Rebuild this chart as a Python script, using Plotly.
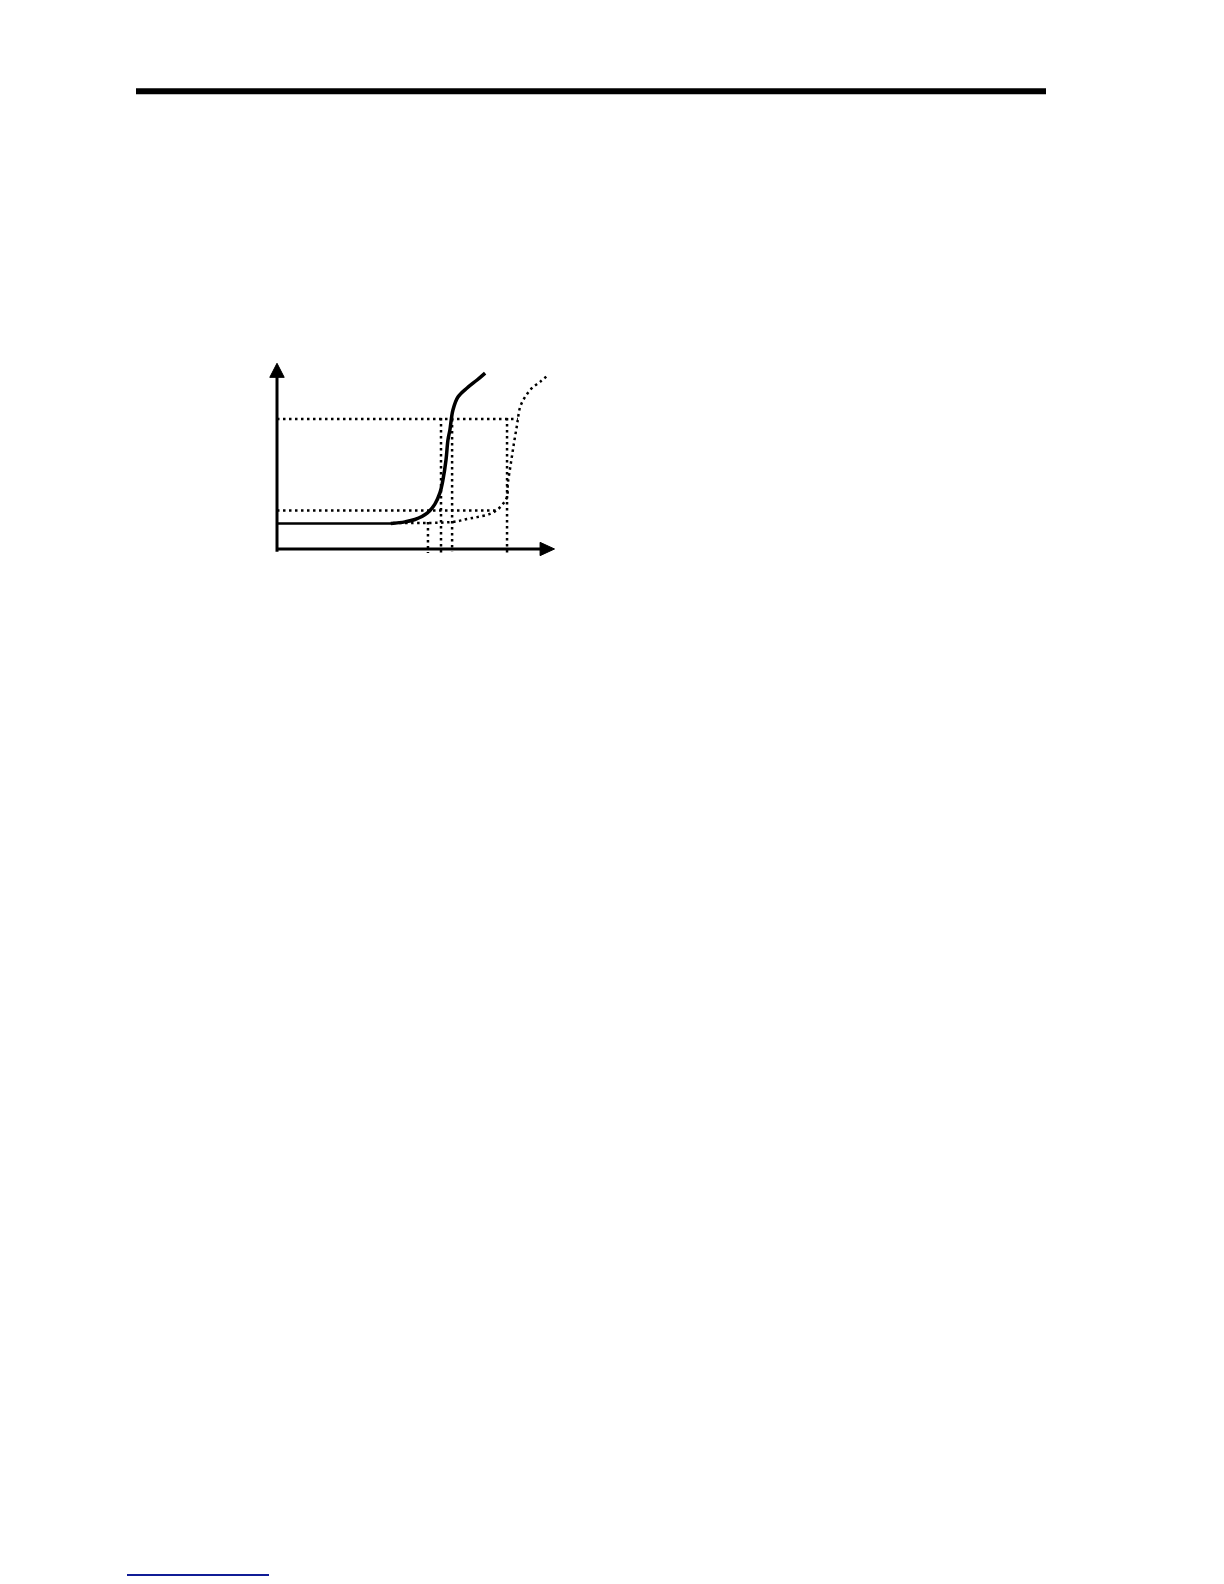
import plotly.graph_objects as go

# ---------------------------------------------------------------
# DATA (chart units: x 0..10, y 0..7)
# ---------------------------------------------------------------

# solid curve: flat part then steep rise
SOLID_FLAT_X = [0, 4.18]
SOLID_FLAT_Y = [0.96, 0.96]
SOLID_X = [4.10, 4.61, 4.97, 5.41, 5.69, 5.87, 5.98, 6.09, 6.16, 6.23, 6.34, 6.52, 6.85, 7.21, 7.50]
SOLID_Y = [0.96, 1.02, 1.11, 1.35, 1.69, 2.11, 2.60, 3.35, 4.10, 4.48, 5.23, 5.72, 6.06, 6.36, 6.62]

# dotted curve: shifted to the right
DOTTED_X = [4.18, 6.34, 6.85, 7.21, 7.68, 7.93, 8.14, 8.29, 8.32, 8.43, 8.54, 8.65, 8.68, 8.76, 8.94, 9.19, 9.48, 9.77]
DOTTED_Y = [0.98, 1.02, 1.13, 1.20, 1.32, 1.47, 1.69, 1.96, 2.48, 3.24, 3.99, 4.67, 4.89, 5.34, 5.72, 6.06, 6.29, 6.55]

# dotted guide lines
GUIDE_H_Y = [4.89, 1.45]
GUIDE_H_XEND = [8.68, 7.93]
GUIDE_V_X = [5.44, 5.91, 6.31, 8.29]
GUIDE_V_YTOP = [1.02, 4.93, 4.89, 4.93]
GUIDE_V_YBOT = [-0.15, -0.15, -0.08, -0.15]

# ---------------------------------------------------------------
# PAGE GEOMETRY
# ---------------------------------------------------------------
PAGE_W, PAGE_H = 1224, 1584
BODY = 8                      # default body margin of the html page
W, H = PAGE_W - 2 * BODY, PAGE_H - 2 * BODY


def px(v):
    # page pixel -> figure pixel
    return v - BODY


ORIGIN_PX = (px(277), px(549))   # chart origin
PX_PER_X, PX_PER_Y = 27.75, 26.57
X_RANGE = [-0.5, 10.5]
Y_RANGE = [-0.5, 7.5]

x0 = ORIGIN_PX[0] + X_RANGE[0] * PX_PER_X
x1 = ORIGIN_PX[0] + X_RANGE[1] * PX_PER_X
y0 = ORIGIN_PX[1] - Y_RANGE[0] * PX_PER_Y
y1 = ORIGIN_PX[1] - Y_RANGE[1] * PX_PER_Y

DOT = '2.5px,3.5px'

fig = go.Figure()

# guide lines
gx, gy = [], []
for yv, xe in zip(GUIDE_H_Y, GUIDE_H_XEND):
    gx += [0, xe, None]
    gy += [yv, yv, None]
for xv, yt, yb in zip(GUIDE_V_X, GUIDE_V_YTOP, GUIDE_V_YBOT):
    gx += [xv, xv, None]
    gy += [yt, yb, None]
fig.add_trace(go.Scatter(x=gx, y=gy, mode='lines',
                         line=dict(color='black', width=2.5, dash=DOT)))

fig.add_trace(go.Scatter(x=DOTTED_X, y=DOTTED_Y, mode='lines',
                         line=dict(color='black', width=2.5, dash=DOT, shape='spline')))

fig.add_trace(go.Scatter(x=SOLID_FLAT_X, y=SOLID_FLAT_Y, mode='lines',
                         line=dict(color='black', width=2.4)))
fig.add_trace(go.Scatter(x=SOLID_X, y=SOLID_Y, mode='lines',
                         line=dict(color='black', width=3.5, shape='spline')))

shapes = [
    # axes
    dict(type='line', xref='x', yref='y', x0=0, y0=-0.1, x1=0, y1=6.6,
         line=dict(color='black', width=3)),
    dict(type='line', xref='x', yref='y', x0=0, y0=0, x1=9.6, y1=0,
         line=dict(color='black', width=3)),
    # arrowheads
    dict(type='path', xref='x', yref='y', path='M 0 6.99 L -0.26 6.46 L 0.26 6.46 Z',
         fillcolor='black', line=dict(color='black', width=1)),
    dict(type='path', xref='x', yref='y', path='M 10.0 0 L 9.48 0.25 L 9.48 -0.25 Z',
         fillcolor='black', line=dict(color='black', width=1)),
    # page header rule
    dict(type='rect', xref='paper', yref='paper',
         x0=px(136) / W, x1=px(1046) / W, y0=1 - px(94.3) / H, y1=1 - px(88.3) / H,
         fillcolor='black', line=dict(width=0)),
    # footnote rule
    dict(type='line', xref='paper', yref='paper',
         x0=px(127) / W, x1=px(269) / W, y0=1 - px(1575) / H, y1=1 - px(1575) / H,
         line=dict(color='#101c96', width=1.8)),
]

fig.update_layout(
    width=W, height=H,
    margin=dict(l=0, r=0, t=0, b=0),
    paper_bgcolor='white', plot_bgcolor='rgba(0,0,0,0)',
    showlegend=False,
    shapes=shapes,
    xaxis=dict(domain=[x0 / W, x1 / W], range=X_RANGE, visible=False),
    yaxis=dict(domain=[1 - y0 / H, 1 - y1 / H], range=Y_RANGE, visible=False),
)

fig.write_html('out.html')
